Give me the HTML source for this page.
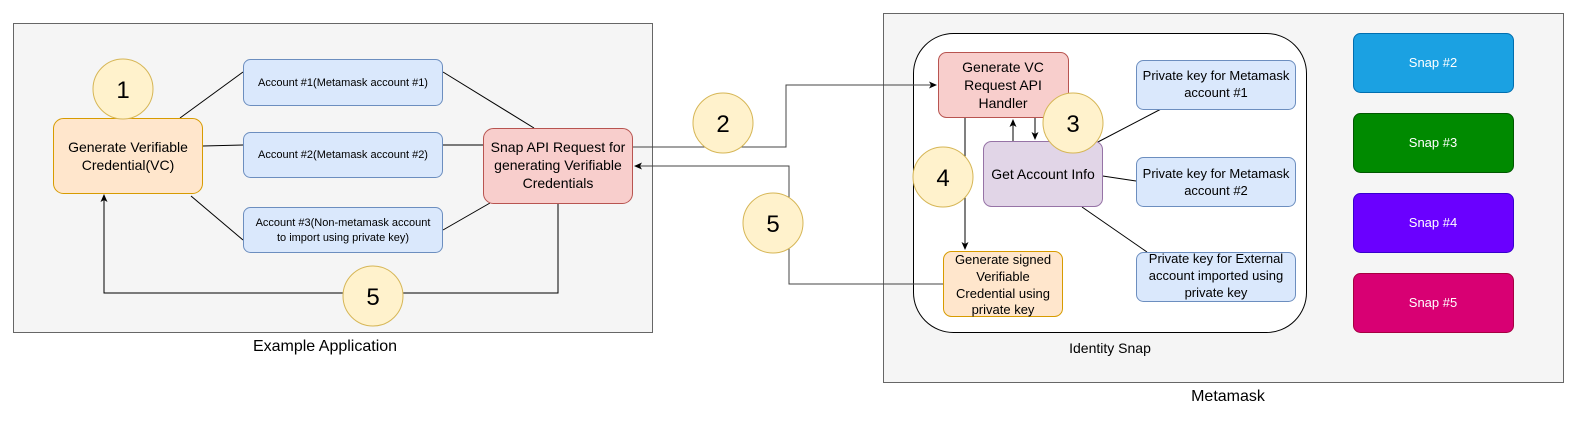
<!DOCTYPE html>
<html><head><meta charset="utf-8"><style>
html,body{margin:0;padding:0;background:#fff;}
svg{display:block;font-family:"Liberation Sans",Arial,sans-serif;}
</style></head><body>
<svg width="1579" height="438" viewBox="0 0 1579 438" xmlns="http://www.w3.org/2000/svg">
<defs>
<marker id="a" markerWidth="8" markerHeight="8" refX="7" refY="4" orient="auto" markerUnits="userSpaceOnUse">
<path d="M0,0.5 L8,4 L0,7.5 L2,4 Z" fill="#000"/></marker>
</defs>
<rect x="13.5" y="23.5" width="639" height="309" fill="#f5f5f5" stroke="#666"/>
<text x="325" y="351" font-size="16" text-anchor="middle" fill="#000">Example Application</text>
<rect x="883.5" y="13.5" width="680" height="369" fill="#f5f5f5" stroke="#666"/>
<text x="1228" y="401" font-size="16" text-anchor="middle" fill="#000">Metamask</text>
<rect x="913.5" y="33.5" width="393" height="299" rx="40" fill="#fff" stroke="#000"/>
<text x="1110" y="353" font-size="14" text-anchor="middle" fill="#000">Identity Snap</text>

<g stroke="#000" stroke-width="1" fill="none">
<line x1="180" y1="118" x2="243" y2="72"/>
<line x1="203" y1="146" x2="243" y2="145"/>
<line x1="191" y1="196" x2="243" y2="240"/>
<line x1="443" y1="72" x2="534" y2="128"/>
<line x1="443" y1="145" x2="483" y2="145"/>
<line x1="443" y1="230" x2="490" y2="203"/>
<polyline points="558,203 558,293 104,293 104,195" marker-end="url(#a)"/>
<polyline points="633,147 786,147 786,85 936,85" stroke="#444" marker-end="url(#a)"/>
<polyline points="943,284 789,284 789,166 635,166" stroke="#444" marker-end="url(#a)"/>
<line x1="965" y1="118" x2="965" y2="249" marker-end="url(#a)"/>
<line x1="1013" y1="141" x2="1013" y2="120" marker-end="url(#a)"/>
<line x1="1035" y1="118" x2="1035" y2="139" marker-end="url(#a)"/>
<line x1="1096" y1="143" x2="1163" y2="108"/>
<line x1="1096" y1="175" x2="1136" y2="181"/>
<line x1="1082" y1="207" x2="1147" y2="252"/>
</g>

<rect x="53.5" y="118.5" width="149" height="75" rx="10" fill="#ffe6cc" stroke="#d79b00"/>
<text font-size="14" text-anchor="middle" fill="#000"><tspan x="128" y="152">Generate Verifiable</tspan><tspan x="128" y="170">Credential(VC)</tspan></text>
<g fill="#dae8fc" stroke="#6c8ebf">
<rect x="243.5" y="59.5" width="199" height="46" rx="7"/>
<rect x="243.5" y="132.5" width="199" height="45" rx="7"/>
<rect x="243.5" y="207.5" width="199" height="45" rx="7"/>
</g>
<g font-size="11" text-anchor="middle" fill="#000">
<text x="343" y="86">Account #1(Metamask account #1)</text>
<text x="343" y="158">Account #2(Metamask account #2)</text>
<text x="343" y="226">Account #3(Non-metamask account</text>
<text x="343" y="241">to import using private key)</text>
</g>
<rect x="483.5" y="128.5" width="149" height="75" rx="10" fill="#f8cecc" stroke="#b85450"/>
<text font-size="14" text-anchor="middle" fill="#000"><tspan x="558" y="152">Snap API Request for</tspan><tspan x="558" y="170">generating Verifiable</tspan><tspan x="558" y="188">Credentials</tspan></text>

<rect x="938.5" y="52.5" width="130" height="65" rx="8" fill="#f8cecc" stroke="#b85450"/>
<text font-size="14" text-anchor="middle" fill="#000"><tspan x="1003" y="72">Generate VC</tspan><tspan x="1003" y="90">Request API</tspan><tspan x="1003" y="108">Handler</tspan></text>
<rect x="983.5" y="141.5" width="119" height="65" rx="8" fill="#e1d5e7" stroke="#9673a6"/>
<text x="1043" y="179" font-size="14" text-anchor="middle" fill="#000">Get Account Info</text>
<rect x="943.5" y="251.5" width="119" height="65" rx="8" fill="#ffe6cc" stroke="#d79b00"/>
<text font-size="13" text-anchor="middle" fill="#000"><tspan x="1003" y="264">Generate signed</tspan><tspan x="1003" y="281">Verifiable</tspan><tspan x="1003" y="298">Credential using</tspan><tspan x="1003" y="314">private key</tspan></text>
<g fill="#dae8fc" stroke="#6c8ebf">
<rect x="1136.5" y="60.5" width="159" height="49" rx="7"/>
<rect x="1136.5" y="157.5" width="159" height="49" rx="7"/>
<rect x="1136.5" y="252.5" width="159" height="49" rx="7"/>
</g>
<g font-size="13" text-anchor="middle" fill="#000">
<text x="1216" y="80">Private key for Metamask</text><text x="1216" y="97">account #1</text>
<text x="1216" y="178">Private key for Metamask</text><text x="1216" y="195">account #2</text>
<text x="1216" y="263">Private key for External</text><text x="1216" y="280">account imported using</text><text x="1216" y="297">private key</text>
</g>

<rect x="1353.5" y="33.5" width="160" height="59" rx="7" fill="#1ba1e2" stroke="#006eaf"/>
<rect x="1353.5" y="113.5" width="160" height="59" rx="7" fill="#008a00" stroke="#005700"/>
<rect x="1353.5" y="193.5" width="160" height="59" rx="7" fill="#6a00ff" stroke="#3700cc"/>
<rect x="1353.5" y="273.5" width="160" height="59" rx="7" fill="#d80073" stroke="#a50040"/>
<g font-size="13" text-anchor="middle" fill="#fff">
<text x="1433" y="67">Snap #2</text><text x="1433" y="147">Snap #3</text>
<text x="1433" y="227">Snap #4</text><text x="1433" y="307">Snap #5</text>
</g>

<g fill="#fff2cc" stroke="#d6b656">
<circle cx="123" cy="89" r="30"/>
<circle cx="373" cy="296" r="30"/>
<circle cx="723" cy="123" r="30"/>
<circle cx="773" cy="223" r="30"/>
<circle cx="1073" cy="123" r="30"/>
<circle cx="943" cy="177" r="30"/>
</g>
<g font-size="24" text-anchor="middle" fill="#000">
<text x="123" y="98">1</text><text x="373" y="305">5</text>
<text x="723" y="132">2</text><text x="773" y="232">5</text>
<text x="1073" y="132">3</text><text x="943" y="186">4</text>
</g>
</svg>
</body></html>
